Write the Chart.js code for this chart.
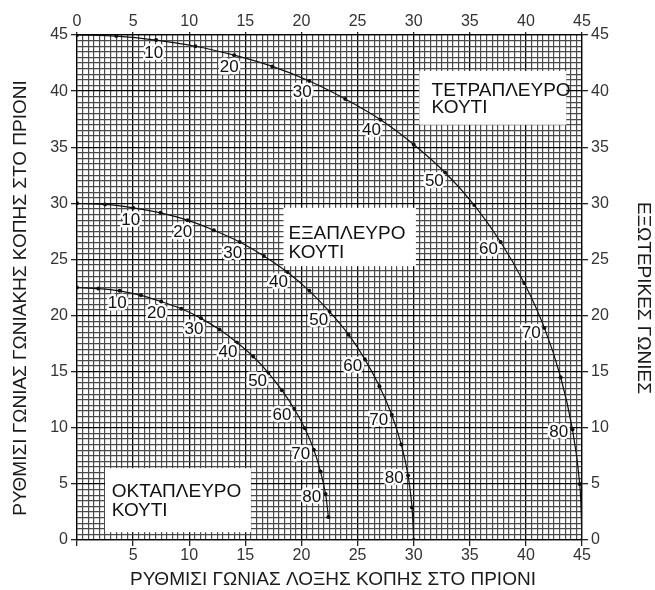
<!DOCTYPE html>
<html>
<head>
<meta charset="utf-8">
<script src="https://cdn.jsdelivr.net/npm/chart.js@4.4.0/dist/chart.umd.min.js"></script>
<style>
  html, body { margin: 0; padding: 0; background: #fff; }
</style>
</head>
<body>
<canvas id="myChart" width="655" height="590"></canvas>
<script>
	// tilt of the box sides, one reading every 5 degrees
	var tilt = [0, 5, 10, 15, 20, 25, 30, 35, 40, 45, 50, 55, 60, 65, 70, 75, 80, 85, 90];

	// square box (ΤΕΤΡΑΠΛΕΥΡΟ): bevel (x) and miter (y)
	var squareBevel = [0, 3.5, 7.05, 10.55, 14.0, 17.4, 20.7, 23.9, 27.05, 30.0, 32.8, 35.4, 37.75, 39.85, 41.65, 43.1, 44.15, 44.8, 45];
	var squareMiter = [45, 44.9, 44.55, 44.0, 43.2, 42.2, 40.9, 39.3, 37.45, 35.25, 32.75, 29.85, 26.55, 22.9, 18.9, 14.5, 9.85, 5.0, 0];

	// hexagonal box (ΕΞΑΠΛΕΥΡΟ)
	var hexBevel = [0, 2.5, 5.0, 7.45, 9.85, 12.2, 14.5, 16.65, 18.75, 20.7, 22.5, 24.2, 25.65, 26.95, 28.05, 28.9, 29.5, 29.85, 30];
	var hexMiter = [30, 29.9, 29.6, 29.15, 28.5, 27.6, 26.55, 25.3, 23.85, 22.2, 20.35, 18.3, 16.1, 13.7, 11.15, 8.5, 5.75, 2.9, 0];

	// octagonal box (ΟΚΤΑΠΛΕΥΡΟ), drawn up to 85
	var octBevel = [0, 1.9, 3.8, 5.7, 7.5, 9.3, 11.05, 12.7, 14.25, 15.7, 17.05, 18.25, 19.35, 20.3, 21.1, 21.7, 22.15, 22.4];
	var octMiter = [22.5, 22.4, 22.2, 21.8, 21.25, 20.6, 19.75, 18.75, 17.6, 16.35, 14.9, 13.35, 11.7, 9.95, 8.05, 6.1, 4.1, 2.05];

	var boxNames = [["ΤΕΤΡΑΠΛΕΥΡΟ", "ΚΟΥΤΙ"], ["ΕΞΑΠΛΕΥΡΟ", "ΚΟΥΤΙ"], ["ΟΚΤΑΠΛΕΥΡΟ", "ΚΟΥΤΙ"]];
	var xTitle = "ΡΥΘΜΙΣΙ ΓΩΝΙΑΣ ΛΟΞΗΣ ΚΟΠΗΣ ΣΤΟ ΠΡΙΟΝΙ";
	var yTitle = "ΡΥΘΜΙΣΙ ΓΩΝΙΑΣ ΓΩΝΙΑΚΗΣ ΚΟΠΗΣ ΣΤΟ ΠΡΙΟΝΙ";
	var y2Title = "ΕΞΩΤΕΡΙΚΕΣ ΓΩΝΙΕΣ";

	var FONT = "'Liberation Sans', Arial, sans-serif";

	function toPoints(xs, ys) {
		return xs.map(function (x, i) { return { x: x, y: ys[i] }; });
	}

	function isMajor(v) {
		return Math.abs(v % 5) < 1e-6 || Math.abs(v % 5 - 5) < 1e-6;
	}

	function curve(xs, ys) {
		return {
			data: toPoints(xs, ys),
			showLine: true,
			borderColor: '#111',
			borderWidth: 1.2,
			tension: 0.3,
			pointRadius: 2,
			pointBackgroundColor: '#111',
			pointBorderWidth: 0
		};
	}

	// white boxes with the box names, in axis units
	var boxLayout = [
		{ x1: 30.5, y1: 41.8, x2: 43.6, y2: 37.0, tx: 31.6, ty: [39.55, 38.05] },
		{ x1: 18.4, y1: 29.6, x2: 30.2, y2: 24.4, tx: 18.85, ty: [26.8, 25.1] },
		{ x1: 2.5, y1: 6.4, x2: 15.5, y2: 0.7, tx: 3.1, ty: [3.85, 2.15] }
	];

	var decor = {
		id: 'decor',
		beforeDatasetsDraw: function (chart) {
			var c = chart.ctx, sx = chart.scales.x, sy = chart.scales.y;
			c.save();
			boxLayout.forEach(function (b, i) {
				var l = sx.getPixelForValue(b.x1), t = sy.getPixelForValue(b.y1);
				var r = sx.getPixelForValue(b.x2), bt = sy.getPixelForValue(b.y2);
				c.fillStyle = '#fff';
				c.fillRect(l, t, r - l, bt - t);
				c.fillStyle = '#111';
				c.font = '19px ' + FONT;
				c.textAlign = 'left';
				c.textBaseline = 'alphabetic';
				boxNames[i].forEach(function (line, j) {
					c.fillText(line, sx.getPixelForValue(b.tx), sy.getPixelForValue(b.ty[j]));
				});
			});
			c.restore();
		},
		afterDatasetsDraw: function (chart) {
			var c = chart.ctx;
			c.save();
			c.font = '17px ' + FONT;
			c.textAlign = 'center';
			c.textBaseline = 'middle';
			c.lineJoin = 'round';
			chart.data.datasets.forEach(function (ds, di) {
				var meta = chart.getDatasetMeta(di);
				meta.data.forEach(function (pt, i) {
					var a = tilt[i];
					if (a === 0 || a >= 90 || a % 10 !== 0) return;
					var rad = a * Math.PI / 180;
					var px = pt.x - 14 * Math.sin(rad);
					var py = pt.y + 12 * Math.cos(rad) + 1;
					c.strokeStyle = '#fff';
					c.lineWidth = 5;
					c.strokeText(String(a), px, py);
					c.fillStyle = '#111';
					c.fillText(String(a), px, py);
				});
			});

			// axis titles
			c.fillStyle = '#1a1a1a';
			c.font = '19px ' + FONT;
			c.textBaseline = 'middle';
			c.fillText(xTitle, 333, 580);
			c.translate(21, 298);
			c.rotate(-Math.PI / 2);
			c.fillText(yTitle, 0, 0);
			c.restore();
			c.save();
			c.fillStyle = '#1a1a1a';
			c.font = '19px ' + FONT;
			c.textAlign = 'center';
			c.textBaseline = 'middle';
			c.translate(643, 298);
			c.rotate(Math.PI / 2);
			c.fillText(y2Title, 0, 0);
			c.restore();
		}
	};

	function axis(pos, size, hideZero, onChart, tickLen, pad) {
		return {
			type: 'linear',
			position: pos,
			min: 0,
			max: 45,
			afterFit: function (s) {
				if (pos === 'left' || pos === 'right') s.width = size; else s.height = size;
			},
			border: { display: true, color: '#000', width: 1.2 },
			grid: {
				drawOnChartArea: onChart,
				drawTicks: true,
				tickLength: tickLen,
				color: function (ctx) { return isMajor(ctx.tick.value) ? '#000' : '#4a4a4a'; },
				lineWidth: function (ctx) { return isMajor(ctx.tick.value) ? 1.3 : 1.2; },
				tickColor: function (ctx) { return isMajor(ctx.tick.value) ? '#222' : 'rgba(0,0,0,0)'; }
			},
			ticks: {
				stepSize: 0.5,
				maxTicksLimit: 200,
				autoSkip: false,
				maxRotation: 0,
				padding: pad,
				color: '#333',
				font: { family: FONT, size: 16 },
				callback: function (v) {
					if (!isMajor(v)) return '';
					if (hideZero && v === 0) return '';
					return String(Math.round(v));
				}
			}
		};
	}

	var ctx = document.getElementById('myChart').getContext('2d');
	var chart = new Chart(ctx, {
		type: 'scatter',
		data: {
			datasets: [
				curve(squareBevel, squareMiter),
				curve(hexBevel, hexMiter),
				curve(octBevel, octMiter)
			]
		},
		options: {
			responsive: false,
			animation: false,
			devicePixelRatio: 1,
			layout: { padding: 0 },
			plugins: { legend: { display: false }, tooltip: { enabled: false } },
			scales: {
				x: axis('bottom', 50, true, true, 6, 0),
				x2: axis('top', 35, false, false, 3, 1),
				y: axis('left', 77, false, true, 6, 3),
				y2: axis('right', 73, false, false, 6, 3)
			}
		},
		plugins: [decor]
	});
</script>
</body>
</html>
